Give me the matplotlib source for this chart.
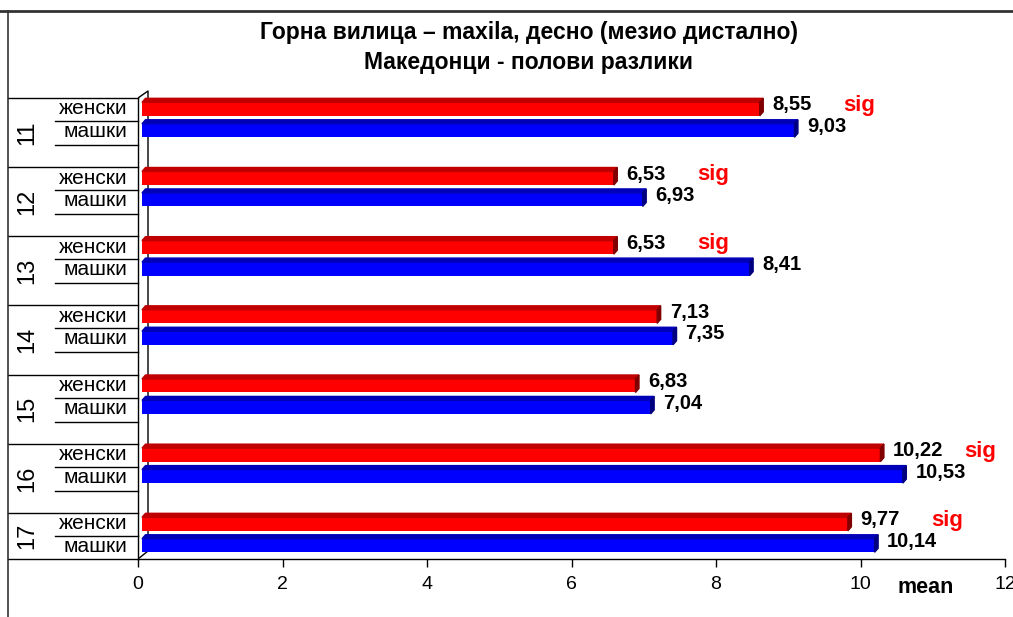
import matplotlib
matplotlib.use('Agg')
import matplotlib.pyplot as plt
from matplotlib.patches import Polygon
from matplotlib.lines import Line2D

plt.rcParams['font.family'] = ['Liberation Sans', 'DejaVu Sans']

# data, top to bottom
groups = ['11', '12', '13', '14', '15', '16', '17']
zenski = [8.55, 6.53, 6.53, 7.13, 6.83, 10.22, 9.77]
maski = [9.03, 6.93, 8.41, 7.35, 7.04, 10.53, 10.14]
sig = [True, True, True, False, False, True, True]
sub_labels = ['женски', 'машки']
title1 = 'Горна вилица – maxila, десно (мезио дистално)'
title2 = 'Македонци - полови разлики'

W, H = 1013, 617
fig = plt.figure(figsize=(W / 100, H / 100), dpi=100)
ax = fig.add_axes([138 / W, (H - 559) / H, (1005 - 138) / W, (559 - 90) / H])

xpx = 72.25   # px per x unit
ypx = 69.2    # px per group
ybot = 6.665
ax.set_xlim(0, 12)
ax.set_ylim(ybot, -8 / ypx)

bar_h = 13.5 / ypx
red_off = 0.16
blue_off = 0.47
x0 = 4 / xpx
dx = 3.5 / xpx
dy = 4 / ypx


def bar3d(y, v, front, top, side):
    ax.barh(y, v, left=x0, height=bar_h, color=front, zorder=3)
    t = y - bar_h / 2
    b = y + bar_h / 2
    r = x0 + v
    ax.add_patch(Polygon([(x0, t), (x0 + dx, t - dy), (r + dx, t - dy), (r, t)],
                         closed=True, color=top, zorder=3))
    ax.add_patch(Polygon([(r, t), (r + dx, t - dy), (r + dx, b - dy), (r, b)],
                         closed=True, color=side, zorder=3))


for i in range(len(groups)):
    yr = i + red_off
    yb = i + blue_off
    bar3d(yr, zenski[i], '#ff0000', '#c00000', '#800000')
    bar3d(yb, maski[i], '#0000ff', '#0000b8', '#000080')
    for y, v in [(yr, zenski[i]), (yb, maski[i])]:
        ax.annotate(f'{v:.2f}'.replace('.', ','), (x0 + v, y), xytext=(9, 3),
                    textcoords='offset points', ha='left', va='center',
                    fontsize=14.5, fontweight='bold', color='black', zorder=4)
    if sig[i]:
        ax.annotate('sig', (x0 + zenski[i], i), xytext=(60, -5.5),
                    textcoords='offset points', ha='left', va='center',
                    fontsize=16, fontweight='bold', color='#ff0000')

    # category labels on the left
    ax.text(-11 / xpx, i + 11 / ypx, sub_labels[0], ha='right', va='center',
            fontsize=15, clip_on=False)
    ax.text(-11 / xpx, i + 33.5 / ypx, sub_labels[1], ha='right', va='center',
            fontsize=15, clip_on=False)
    ax.plot([-130 / xpx, 0], [i, i], color='black', lw=1, clip_on=False)
    for yy in [i + 23 / ypx, i + 47 / ypx]:
        if yy < ybot:
            ax.plot([-83 / xpx, 0], [yy, yy], color='black', lw=1, clip_on=False)
    ymid = (i + min(i + 1, ybot)) / 2
    ax.text(-111 / xpx, ymid, groups[i], rotation=90, ha='center', va='center',
            fontsize=17, clip_on=False)

# bottom axis line extends left under the labels
ax.plot([-130 / xpx, 0], [ybot, ybot], color='black', lw=1, clip_on=False)

# 3d walls
ax.plot([0, 0], [0, ybot], color='black', lw=1, clip_on=False, zorder=2)
wx = 10 / xpx
ax.plot([0, wx, wx], [0, -7 / ypx, ybot - 8 / ypx], color='black', lw=1, zorder=1)
ax.plot([0, wx], [ybot, ybot - 8 / ypx], color='black', lw=1, zorder=1)

for s in ['top', 'right', 'left']:
    ax.spines[s].set_visible(False)
ax.spines['bottom'].set_linewidth(1)
ax.set_yticks([])
ax.set_xticks(range(0, 13, 2))
ax.tick_params(axis='x', direction='out', length=6, width=1, pad=6, labelsize=14)
ax.annotate('mean', (926 / W, (H - 593) / H), xycoords='figure fraction',
            ha='center', va='baseline', fontsize=15.5, fontweight='bold')

fig.text(529 / W, 1 - 33 / H, title1, ha='center', va='center', fontsize=16.5,
         fontweight='bold')
fig.text(529 / W, 1 - 62 / H, title2, ha='center', va='center', fontsize=16.5,
         fontweight='bold')

# outer frame (top and left edge visible)
fig.add_artist(Line2D([0, 1], [1 - 11 / H, 1 - 11 / H], color='#333333', lw=2))
fig.add_artist(Line2D([8 / W, 8 / W], [0, 1 - 11 / H], color='#333333', lw=1.2))

fig.savefig('out.png', dpi=100)
